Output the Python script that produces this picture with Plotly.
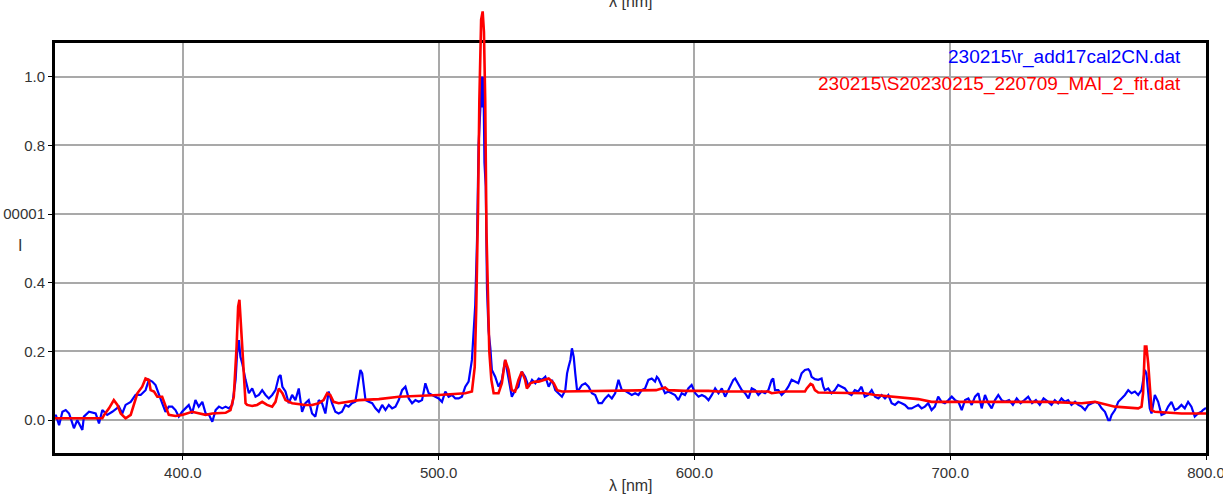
import plotly.graph_objects as go

# ---------------- data ----------------
blue_wl = [
    350.0, 350.3, 351.6, 352.9, 354.2, 355.5, 356.8, 357.4, 358.7, 360.7,
    361.3, 363.3, 365.9, 367.2, 368.5, 370.4, 372.4, 375.0, 376.3, 377.6,
    379.6, 381.5, 383.5, 385.4, 386.7, 388.0, 389.3, 390.6, 391.9, 393.2,
    394.5, 395.8, 397.1, 398.4, 399.7, 401.0, 402.3, 403.6, 404.9, 406.2,
    407.6, 408.9, 410.2, 411.5, 412.8, 414.1, 415.4, 416.7, 418.0, 419.3,
    420.6, 421.2, 421.9, 422.5, 423.2, 424.5, 425.8, 427.1, 428.4, 429.7,
    431.0, 432.3, 433.6, 434.9, 436.2, 437.5, 438.2, 438.9, 440.1, 441.4,
    442.7, 444.0, 445.3, 446.6, 447.9, 449.2, 450.5, 451.8, 453.1, 454.4,
    455.7, 457.0, 458.3, 459.6, 460.9, 462.2, 463.5, 464.8, 466.1, 467.4,
    468.8, 469.4, 470.1, 471.4, 472.7, 474.0, 475.3, 476.6, 477.9, 479.2,
    480.5, 481.8, 483.1, 484.4, 485.7, 487.0, 488.3, 489.6, 490.9, 492.2,
    493.5, 494.8, 496.1, 497.4, 498.7, 500.0, 501.3, 502.6, 503.9, 505.2,
    506.5, 507.8, 509.1, 510.4, 511.7, 513.0, 514.3, 515.0, 515.6, 516.3,
    516.9, 517.2, 517.5, 517.9, 518.4, 518.9, 519.5, 520.2, 520.8, 522.1,
    523.4, 524.7, 526.0, 526.7, 527.3, 528.6, 529.9, 531.2, 532.5, 533.8,
    535.2, 536.5, 537.8, 539.1, 540.4, 541.7, 543.0, 544.3, 545.6, 546.9,
    548.2, 549.5, 550.2, 550.8, 551.5, 552.1, 552.8, 553.4, 554.1, 554.7,
    556.0, 557.3, 558.6, 559.9, 561.2, 562.5, 563.8, 565.1, 566.4, 567.7,
    569.0, 570.3, 571.6, 572.9, 574.2, 575.5, 576.8, 578.1, 579.4, 580.7,
    582.0, 583.3, 584.6, 585.3, 585.9, 587.2, 588.5, 589.8, 591.1, 592.4,
    593.7, 595.0, 596.3, 597.6, 598.9, 600.3, 601.6, 602.9, 604.2, 605.5,
    606.8, 608.1, 609.4, 610.7, 612.0, 613.3, 614.6, 615.2, 615.9, 617.2,
    618.5, 619.8, 621.1, 622.4, 623.7, 625.0, 626.3, 627.6, 628.9, 630.2,
    630.8, 631.5, 632.8, 634.1, 635.4, 636.7, 638.0, 639.3, 640.6, 641.9,
    643.2, 644.5, 645.2, 645.8, 647.1, 648.4, 649.7, 650.4, 651.0, 652.3,
    653.6, 654.9, 656.2, 657.5, 658.8, 660.1, 661.4, 662.7, 664.0, 665.3,
    666.6, 667.9, 669.3, 670.6, 671.9, 673.2, 674.5, 675.8, 677.1, 678.4,
    679.7, 681.0, 682.3, 683.6, 684.9, 686.2, 687.5, 688.8, 690.1, 691.4,
    692.7, 694.0, 695.3, 696.6, 697.9, 699.3, 700.6, 701.9, 703.2, 704.5,
    705.8, 707.1, 708.4, 709.7, 711.0, 712.3, 713.6, 714.9, 716.2, 717.5,
    718.8, 720.1, 721.4, 723.0, 724.5, 726.0, 727.5, 729.0, 730.5, 732.0,
    733.5, 735.0, 736.5, 738.3, 739.6, 740.9, 742.2, 743.5, 744.8, 746.1,
    747.4, 748.8, 750.1, 751.4, 752.7, 754.0, 755.3, 756.6, 757.9, 759.2,
    760.5, 761.8, 762.4, 763.1, 764.4, 765.7, 767.0, 768.3, 769.6, 770.9,
    772.2, 773.5, 774.8, 776.1, 776.7, 777.4, 778.0, 778.7, 780.0, 781.3,
    782.6, 783.9, 785.2, 786.5, 787.8, 789.1, 790.4, 791.7, 793.0, 794.3,
    795.6, 796.9, 798.2, 798.8, 800.0,
]
blue_val = [
    0.010, 0.015, -0.015, 0.024, 0.029, 0.019, -0.010, -0.024, 0.000, -0.029,
    0.010, 0.024, 0.019, -0.010, 0.029, 0.015, 0.024, 0.039, 0.019, 0.044,
    0.053, 0.073, 0.073, 0.087, 0.117, 0.112, 0.102, 0.078, 0.049, 0.024,
    0.039, 0.039, 0.029, 0.010, 0.024, 0.034, 0.044, 0.019, 0.058, 0.039,
    0.053, 0.019, 0.015, -0.005, 0.029, 0.039, 0.034, 0.039, 0.034, 0.044,
    0.117, 0.194, 0.233, 0.184, 0.165, 0.117, 0.078, 0.092, 0.068, 0.073,
    0.087, 0.073, 0.063, 0.073, 0.087, 0.126, 0.131, 0.097, 0.083, 0.049,
    0.073, 0.058, 0.092, 0.024, 0.049, 0.058, 0.019, 0.010, 0.058, 0.049,
    0.019, 0.083, 0.049, 0.024, 0.019, 0.024, 0.044, 0.039, 0.049, 0.053,
    0.117, 0.146, 0.136, 0.058, 0.053, 0.049, 0.034, 0.024, 0.044, 0.029,
    0.044, 0.034, 0.039, 0.058, 0.087, 0.097, 0.063, 0.049, 0.058, 0.053,
    0.058, 0.107, 0.078, 0.073, 0.068, 0.063, 0.053, 0.083, 0.068, 0.073,
    0.063, 0.063, 0.068, 0.097, 0.112, 0.175, 0.335, 0.525, 0.800, 0.930,
    1.000, 0.910, 1.000, 0.750, 0.680, 0.380, 0.260, 0.210, 0.146, 0.126,
    0.097, 0.117, 0.175, 0.146, 0.117, 0.068, 0.087, 0.097, 0.141, 0.126,
    0.097, 0.117, 0.107, 0.121, 0.117, 0.126, 0.097, 0.117, 0.087, 0.078,
    0.068, 0.087, 0.136, 0.155, 0.175, 0.209, 0.184, 0.136, 0.087, 0.087,
    0.102, 0.107, 0.097, 0.078, 0.073, 0.049, 0.049, 0.063, 0.073, 0.063,
    0.078, 0.117, 0.087, 0.085, 0.078, 0.073, 0.078, 0.073, 0.087, 0.092,
    0.117, 0.121, 0.112, 0.126, 0.121, 0.097, 0.078, 0.083, 0.078, 0.073,
    0.058, 0.078, 0.073, 0.092, 0.102, 0.078, 0.068, 0.073, 0.068, 0.058,
    0.073, 0.092, 0.078, 0.092, 0.068, 0.087, 0.107, 0.117, 0.121, 0.102,
    0.087, 0.078, 0.063, 0.092, 0.087, 0.073, 0.083, 0.078, 0.087, 0.117,
    0.121, 0.087, 0.087, 0.073, 0.083, 0.097, 0.117, 0.112, 0.107, 0.136,
    0.146, 0.148, 0.141, 0.126, 0.119, 0.117, 0.121, 0.097, 0.087, 0.092,
    0.078, 0.087, 0.102, 0.097, 0.092, 0.078, 0.073, 0.087, 0.083, 0.097,
    0.068, 0.073, 0.087, 0.068, 0.063, 0.073, 0.063, 0.073, 0.049, 0.044,
    0.053, 0.049, 0.044, 0.034, 0.034, 0.039, 0.044, 0.034, 0.039, 0.049,
    0.029, 0.039, 0.068, 0.053, 0.049, 0.058, 0.068, 0.058, 0.053, 0.029,
    0.058, 0.063, 0.044, 0.068, 0.078, 0.034, 0.073, 0.049, 0.034, 0.058,
    0.073, 0.058, 0.053, 0.058, 0.044, 0.063, 0.049, 0.058, 0.068, 0.049,
    0.058, 0.044, 0.063, 0.053, 0.044, 0.058, 0.049, 0.063, 0.053, 0.058,
    0.044, 0.053, 0.044, 0.039, 0.029, 0.044, 0.049, 0.053, 0.049, 0.034,
    0.024, 0.000, 0.000, 0.015, 0.029, 0.053, 0.063, 0.073, 0.087, 0.078,
    0.083, 0.073, 0.087, 0.146, 0.136, 0.068, 0.034, 0.019, 0.073, 0.053,
    0.015, 0.019, 0.039, 0.053, 0.029, 0.034, 0.044, 0.034, 0.053, 0.039,
    0.010, 0.019, 0.024, 0.029, 0.035,
]

red_wl = [
    350.0, 368.5, 369.2, 371.1, 373.0, 374.4, 375.7, 377.6, 379.6, 380.9,
    382.2, 384.1, 385.4, 386.7, 387.4, 388.7, 390.0, 391.9, 393.2, 394.5,
    397.1, 399.7, 403.6, 406.2, 408.9, 411.5, 416.7, 418.6, 419.9, 421.0,
    421.6, 422.1, 422.6, 423.2, 424.5, 425.1, 427.1, 429.0, 431.0, 432.9,
    434.9, 436.2, 437.5, 438.9, 440.1, 442.7, 447.9, 450.5, 453.1, 455.0,
    456.4, 457.6, 458.9, 460.9, 468.8, 476.6, 484.4, 492.2, 500.0, 510.4,
    513.0, 514.1, 514.7, 515.4, 515.9, 516.6, 517.2, 517.7, 518.2, 518.7,
    519.3, 519.8, 520.6, 521.1, 521.5, 523.4, 524.7, 526.0, 527.3, 528.6,
    529.9, 531.2, 532.5, 533.8, 534.5, 535.8, 537.8, 539.1, 541.1, 543.0,
    545.0, 546.3, 548.2, 574.2, 585.0, 587.2, 588.5, 589.8, 596.3, 605.5,
    609.4, 628.9, 630.2, 635.4, 643.2, 643.9, 645.4, 646.2, 647.1, 648.4,
    665.3, 666.6, 670.6, 677.1, 679.7, 683.6, 687.5, 692.7, 722.6, 738.3,
    751.4, 756.6, 764.4, 773.5, 774.8, 775.4, 776.1, 776.7, 777.4, 778.0,
    778.7, 780.0, 790.4, 800.0,
]
red_val = [
    0.005, 0.005, 0.015, 0.034, 0.058, 0.044, 0.019, 0.005, 0.015, 0.044,
    0.078, 0.097, 0.121, 0.117, 0.087, 0.083, 0.068, 0.068, 0.044, 0.015,
    0.012, 0.015, 0.024, 0.019, 0.015, 0.019, 0.021, 0.029, 0.068, 0.214,
    0.330, 0.350, 0.300, 0.214, 0.049, 0.044, 0.041, 0.044, 0.053, 0.044,
    0.039, 0.053, 0.092, 0.078, 0.058, 0.049, 0.044, 0.044, 0.049, 0.058,
    0.078, 0.073, 0.053, 0.049, 0.058, 0.061, 0.068, 0.070, 0.073, 0.078,
    0.083, 0.155, 0.330, 0.620, 0.930, 1.166, 1.190, 1.130, 0.930, 0.545,
    0.300, 0.200, 0.117, 0.087, 0.078, 0.078, 0.107, 0.175, 0.146, 0.087,
    0.083, 0.117, 0.141, 0.117, 0.092, 0.107, 0.112, 0.112, 0.117, 0.121,
    0.107, 0.087, 0.083, 0.087, 0.087, 0.092, 0.095, 0.087, 0.085, 0.085,
    0.083, 0.083, 0.078, 0.083, 0.083, 0.092, 0.105, 0.102, 0.087, 0.080,
    0.080, 0.078, 0.073, 0.068, 0.066, 0.063, 0.061, 0.053, 0.053, 0.053,
    0.049, 0.053, 0.039, 0.034, 0.039, 0.078, 0.214, 0.214, 0.165, 0.087,
    0.029, 0.024, 0.019, 0.019,
]

x_ticks = [400, 500, 600, 700, 800]
x_ticktext = ["400.0", "500.0", "600.0", "700.0", "800.0"]
y_ticks = [0.0, 0.2, 0.4, 0.6, 0.8, 1.0]
y_ticktext = ["0.0", "0.2", "0.4", "00001", "0.8", "1.0"]

blue_name = "230215\\r_add17cal2CN.dat"
red_name = "230215\\S20230215_220709_MAI_2_fit.dat"
axis_title = "λ [nm]"

assert len(blue_wl) == len(blue_val)
assert len(red_wl) == len(red_val)

# ---------------- layout geometry ----------------
W, H = 1223, 498
ML, MR, MT, MB = 55, 17, 5, 45
plot_top_px = 43                     # visible frame top
paper_h = H - MT - MB
frame_bottom_px = H - MB
paper_w = W - ML - MR
y_lo, y_hi = -0.096, 1.098
dom_top = (frame_bottom_px - plot_top_px) / paper_h
y2_hi = y_lo + (y_hi - y_lo) / dom_top   # same scale, taller area so peak is not clipped


def px_x(px):
    return (px - ML) / paper_w


def px_y(py):
    return (frame_bottom_px - py) / paper_h


FONT = "Liberation Sans, Arial, sans-serif"

fig = go.Figure()
fig.add_trace(go.Scatter(x=blue_wl, y=blue_val, mode="lines", name=blue_name,
                         line=dict(color="#0000ff", width=2.2),
                         xaxis="x", yaxis="y", showlegend=False))
fig.add_trace(go.Scatter(x=red_wl, y=red_val, mode="lines", name=red_name,
                         line=dict(color="#ff0000", width=2.6),
                         xaxis="x2", yaxis="y2", showlegend=False))

axis_common = dict(showgrid=True, gridcolor="#a9a9a9", gridwidth=1.5,
                   zeroline=False, showline=True, linecolor="black",
                   linewidth=3, mirror=True, ticks="outside", ticklen=4,
                   tickcolor="black", tickwidth=1,
                   tickfont=dict(family=FONT, size=15, color="#333333"),
                   automargin=False, fixedrange=True,
                   ticklabeloverflow="allow")

fig.update_layout(
    width=W, height=H,
    margin=dict(l=ML, r=MR, t=MT, b=MB, pad=0),
    paper_bgcolor="white", plot_bgcolor="rgba(0,0,0,0)",
    template="none",
    showlegend=False,
    xaxis=dict(domain=[0, 1], range=[350, 800], tickvals=x_ticks,
               ticktext=x_ticktext, anchor="y", **axis_common),
    yaxis=dict(domain=[0, dom_top], range=[y_lo, y_hi], tickvals=y_ticks,
               ticktext=y_ticktext, anchor="x", **axis_common),
    xaxis2=dict(domain=[0, 1], range=[350, 800], visible=False,
                anchor="y2", fixedrange=True),
    yaxis2=dict(domain=[0, 1], range=[y_lo, y2_hi], visible=False,
                anchor="x2", fixedrange=True),
    annotations=[
        dict(text=blue_name, xref="paper", yref="paper", x=px_x(1183),
             y=px_y(57), xanchor="right", yanchor="middle", showarrow=False,
             font=dict(family=FONT, size=19, color="#0000ff")),
        dict(text=red_name, xref="paper", yref="paper", x=px_x(1183),
             y=px_y(84), xanchor="right", yanchor="middle", showarrow=False,
             font=dict(family=FONT, size=19, color="#ff0000")),
        dict(text=axis_title, xref="paper", yref="paper", x=0.5,
             y=px_y(485), xanchor="center", yanchor="middle", showarrow=False,
             font=dict(family=FONT, size=16, color="#333333")),
        dict(text=axis_title, xref="paper", yref="paper", x=0.5,
             y=px_y(1), xanchor="center", yanchor="middle", showarrow=False,
             font=dict(family=FONT, size=16, color="#333333")),
        dict(text="I", xref="paper", yref="paper", x=px_x(20),
             y=px_y(245), xanchor="center", yanchor="middle", showarrow=False,
             font=dict(family=FONT, size=16, color="#333333")),
    ],
)

fig.write_html("out.html")
